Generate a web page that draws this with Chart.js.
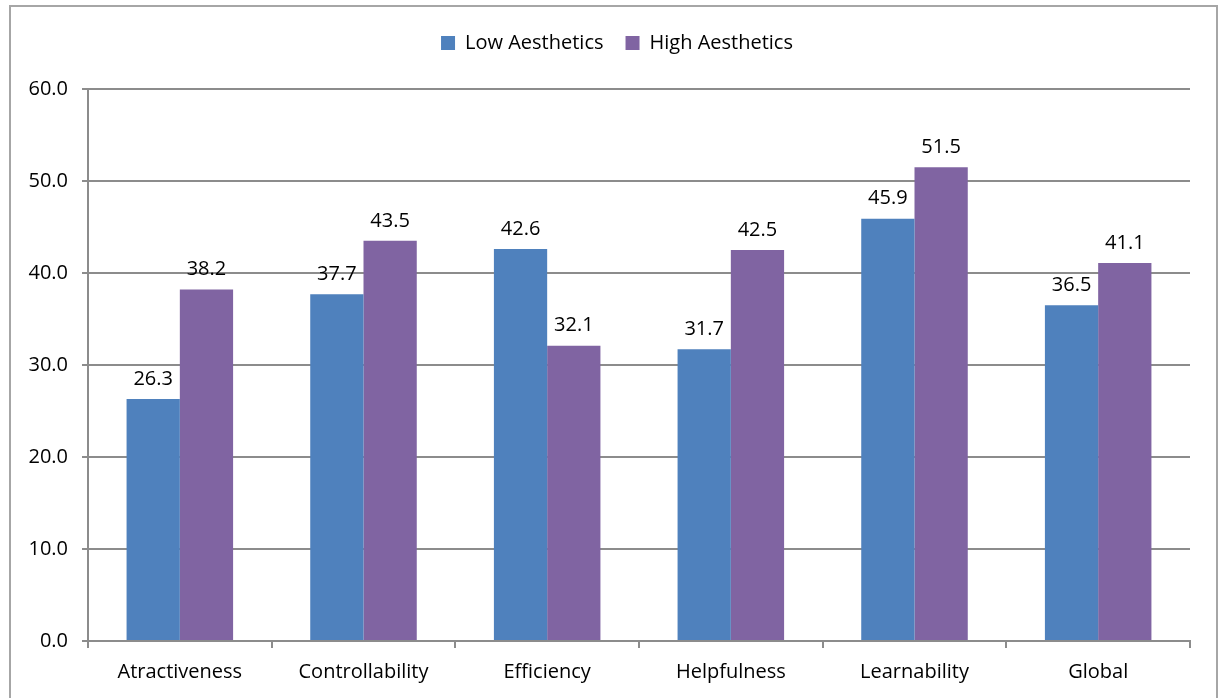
<!DOCTYPE html>
<html>
<head>
<meta charset="utf-8">
<script src="https://cdn.jsdelivr.net/npm/chart.js@4"></script>
<style>
  html, body { margin: 0; padding: 0; background: #fff; }
  #wrap { position: relative; width: 1222px; height: 698px; }
</style>
</head>
<body>
<div id="wrap"><canvas id="myChart" width="1222" height="698"></canvas></div>
<script>
/* Datos del grafico */
const categorias = ["Atractiveness", "Controllability", "Efficiency", "Helpfulness", "Learnability", "Global"];
const bajaEstetica = [26.3, 37.7, 42.6, 31.7, 45.9, 36.5];
const altaEstetica = [38.2, 43.5, 32.1, 42.5, 51.5, 41.1];
const series = ["Low Aesthetics", "High Aesthetics"];

const fuente = "'Open Sans', 'Liberation Sans', sans-serif";
const gris = "#8c8c8c";

/* marco exterior del grafico */
const marco = {
  id: "marco",
  beforeDraw(chart) {
    const c = chart.ctx;
    c.save();
    c.strokeStyle = "#a6a6a6";
    c.lineWidth = 2;
    c.beginPath();
    c.moveTo(10, 720);
    c.lineTo(10, 6);
    c.lineTo(1217, 6);
    c.lineTo(1217, 720);
    c.stroke();
    c.restore();
  },
};

/* espacio extra bajo la leyenda y leyenda centrada en todo el ancho */
const ajusteLeyenda = {
  id: "ajusteLeyenda",
  beforeInit(chart) {
    const leyenda = chart.legend;
    const fitOriginal = leyenda.fit;
    leyenda.fit = function fit() {
      fitOriginal.bind(leyenda)();
      this.height += 26;
    };
    const drawOriginal = leyenda.draw;
    leyenda.draw = function draw() {
      const c = chart.ctx;
      c.save();
      c.translate(22, 0);
      drawOriginal.bind(leyenda)();
      c.restore();
    };
  },
};

/* valores encima de cada barra */
const etiquetas = {
  id: "etiquetas",
  afterDatasetsDraw(chart) {
    const c = chart.ctx;
    c.save();
    c.font = "20px " + fuente;
    c.fillStyle = "#000";
    c.textAlign = "center";
    c.textBaseline = "bottom";
    chart.data.datasets.forEach((ds, i) => {
      chart.getDatasetMeta(i).data.forEach((bar, j) => {
        c.fillText(ds.data[j].toFixed(1), bar.x, bar.y - 10);
      });
    });
    c.restore();
  },
};

const ctx = document.getElementById("myChart").getContext("2d");
const myChart = new Chart(ctx, {
  type: "bar",
  data: {
    labels: categorias,
    datasets: [
      {
        label: series[0],
        data: bajaEstetica,
        backgroundColor: "#4f81bd",
      },
      {
        label: series[1],
        data: altaEstetica,
        backgroundColor: "#8064a2",
      },
    ],
  },
  options: {
    responsive: false,
    animation: false,
    layout: {
      padding: { top: 11, right: 32, left: 0, bottom: 2 },
    },
    datasets: {
      bar: {
        categoryPercentage: 0.58,
        barPercentage: 1.0,
      },
    },
    plugins: {
      legend: {
        position: "top",
        labels: {
          font: { family: fuente, size: 20 },
          color: "#000",
          boxWidth: 14,
          boxHeight: 14,
          padding: 22,
        },
      },
      tooltip: { enabled: false },
    },
    scales: {
      x: {
        grid: {
          display: true,
          drawOnChartArea: false,
          drawTicks: true,
          tickLength: 7,
          offset: true,
          color: gris,
          lineWidth: 2,
        },
        border: { color: gris, width: 2 },
        ticks: {
          font: { family: fuente, size: 20 },
          color: "#000",
          padding: 12,
        },
      },
      y: {
        min: 0,
        max: 60,
        afterFit(scale) {
          scale.width = 88;
        },
        grid: {
          color: gris,
          lineWidth: 2,
          tickLength: 6,
        },
        border: { color: gris, width: 2 },
        ticks: {
          stepSize: 10,
          font: { family: fuente, size: 20 },
          color: "#000",
          padding: 14,
          callback: (v) => v.toFixed(1),
        },
      },
    },
  },
  plugins: [marco, ajusteLeyenda, etiquetas],
});
</script>
</body>
</html>
